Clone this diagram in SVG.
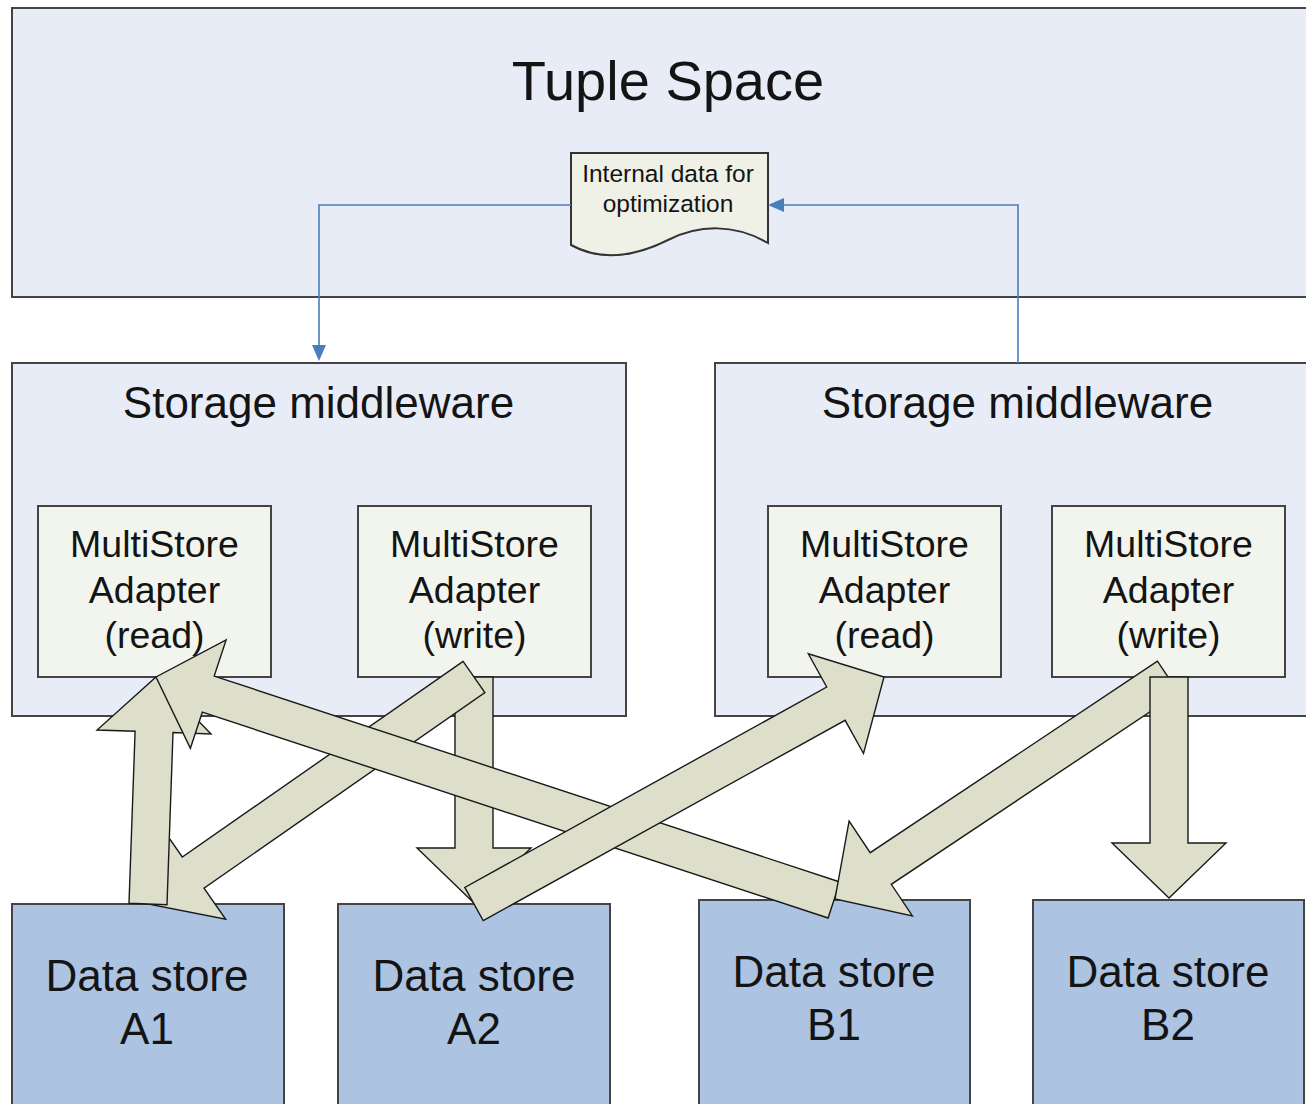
<svg xmlns="http://www.w3.org/2000/svg" width="1306" height="1104" viewBox="0 0 1306 1104">
<style>
.box{fill:#e8ecf6;stroke:#444;stroke-width:2}
.adapter{fill:#f2f4ee;stroke:#444;stroke-width:2}
.store{fill:#adc3e2;stroke:#444;stroke-width:2}
.doc{fill:#eff1e6;stroke:#333;stroke-width:2}
.t{font-family:"Liberation Sans",Arial,sans-serif;fill:#141414;text-anchor:middle}
.blk{fill:#dddfcb;stroke:#1a1a1a;stroke-width:1.4;stroke-linejoin:miter}
.conn{fill:none;stroke:#4a7ebb;stroke-width:1.6}
.head{fill:#4a7ebb}
</style>
<rect width="1306" height="1104" fill="#ffffff"/>
<g id="tuple-space">
<rect class="box" x="12" y="8" width="1310" height="289"/>
<text class="t" x="668" y="100" font-size="56">Tuple Space</text>
</g>
<g id="internal-data">
<path class="doc" d="M571,153 H768 V243 C735,224 700,224 668,240 S602,262 571,245 Z"/>
<text class="t" x="668" y="182" font-size="24.5">Internal data for</text>
<text class="t" x="668" y="212" font-size="24.5">optimization</text>
</g>
<g id="middleware-a">
<rect class="box" x="12" y="363" width="614" height="353"/>
<text class="t" x="318.5" y="418" font-size="44">Storage middleware</text>
</g>
<g id="middleware-b">
<rect class="box" x="715" y="363" width="610" height="353"/>
<text class="t" x="1017.5" y="418" font-size="44">Storage middleware</text>
</g>
<g id="adapter-a-read">
<rect class="adapter" x="38" y="506" width="233" height="171"/>
<text class="t" font-size="37.5"><tspan x="154.5" y="557">MultiStore</tspan><tspan x="154.5" y="603">Adapter</tspan><tspan x="154.5" y="648">(read)</tspan></text>
</g>
<g id="adapter-a-write">
<rect class="adapter" x="358" y="506" width="233" height="171"/>
<text class="t" font-size="37.5"><tspan x="474.5" y="557">MultiStore</tspan><tspan x="474.5" y="603">Adapter</tspan><tspan x="474.5" y="648">(write)</tspan></text>
</g>
<g id="adapter-b-read">
<rect class="adapter" x="768" y="506" width="233" height="171"/>
<text class="t" font-size="37.5"><tspan x="884.5" y="557">MultiStore</tspan><tspan x="884.5" y="603">Adapter</tspan><tspan x="884.5" y="648">(read)</tspan></text>
</g>
<g id="adapter-b-write">
<rect class="adapter" x="1052" y="506" width="233" height="171"/>
<text class="t" font-size="37.5"><tspan x="1168.5" y="557">MultiStore</tspan><tspan x="1168.5" y="603">Adapter</tspan><tspan x="1168.5" y="648">(write)</tspan></text>
</g>
<g id="store-a1">
<rect class="store" x="12" y="904" width="272" height="220"/>
<text class="t" font-size="44"><tspan x="147" y="991">Data store</tspan><tspan x="147" y="1044">A1</tspan></text>
</g>
<g id="store-a2">
<rect class="store" x="338" y="904" width="272" height="220"/>
<text class="t" font-size="44"><tspan x="474" y="991">Data store</tspan><tspan x="474" y="1044">A2</tspan></text>
</g>
<g id="store-b1">
<rect class="store" x="699" y="900" width="271" height="224"/>
<text class="t" font-size="44"><tspan x="834" y="987">Data store</tspan><tspan x="834" y="1040">B1</tspan></text>
</g>
<g id="store-b2">
<rect class="store" x="1033" y="900" width="271" height="224"/>
<text class="t" font-size="44"><tspan x="1168" y="987">Data store</tspan><tspan x="1168" y="1040">B2</tspan></text>
</g>
<g id="connectors">
<polyline class="conn" points="571,205 319,205 319,347"/>
<polygon class="head" points="319,361 312,345 326,345"/>
<polyline class="conn" points="1018,363 1018,205 782,205"/>
<polygon class="head" points="768,205 784,198 784,212"/>
<polygon class="blk" points="455,677 455,848 417,848 474,903 531,848 493,848 493,677"/>
<polygon class="blk" points="463.1,661.4 182.3,857 160.6,825.8 148,904 225.7,919.3 204,888.2 484.9,692.6"/>
<polygon class="blk" points="167,904.7 173,732.6 211,734 156,677 97.1,730 135.1,731.3 129,903.3"/>
<polygon class="blk" points="839.9,882 214.2,676.1 226.1,640 156,677 190.4,748.3 202.3,712.2 828.1,918"/>
<polygon class="blk" points="483.2,920.6 845.1,720.3 863.5,753.5 884,677 808.3,653.8 826.7,687 464.8,887.4"/>
<polygon class="blk" points="1157.5,661.2 870.2,852.7 849.1,821.1 835,899 912.4,915.9 891.3,884.3 1178.5,692.8"/>
<polygon class="blk" points="1150,677 1150,843 1112,843 1169,898 1226,843 1188,843 1188,677"/>
</g>
</svg>
